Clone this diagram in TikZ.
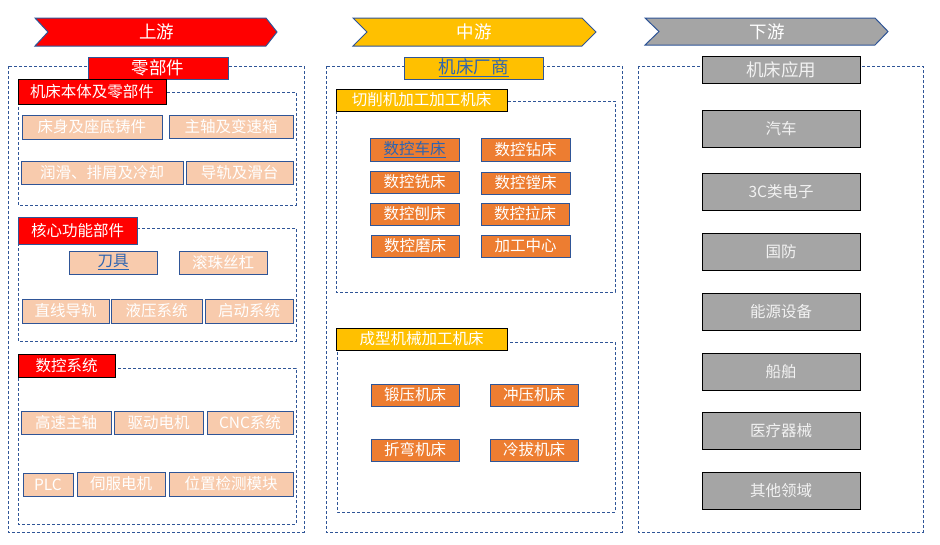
\documentclass[tikz,border=0pt]{standalone}
\usepackage{xcolor}
\usepackage{fontspec}
\setmainfont{Noto Sans CJK SC}
\usepackage{tikz}

\definecolor{lineblue}{HTML}{2F5597}
\definecolor{redfill}{HTML}{FF0000}
\definecolor{goldfill}{HTML}{FFC000}
\definecolor{grayfill}{HTML}{A5A5A5}
\definecolor{peach}{HTML}{F8CBAD}
\definecolor{orangefill}{HTML}{ED7D31}
\definecolor{linktext}{HTML}{2E64B0}

\begin{document}
\begin{tikzpicture}[x=1pt,y=-1pt,
  box/.style={rectangle,inner sep=0pt,line width=1pt,text=white,font=\fontsize{15.5}{18}\selectfont},
  bigbox/.style={box,font=\fontsize{17.5}{20}\selectfont},
  part/.style={box,fill=peach,draw=lineblue},
  mill/.style={box,fill=orangefill,draw=lineblue},
  app/.style={box,fill=grayfill,draw=black,text=white!95!black,minimum width=158pt,minimum height=37pt},
  area/.style={draw=lineblue,line width=0.9pt,dash pattern=on 3pt off 2pt},
  chev/.style={draw=lineblue,line width=1pt}]
\useasboundingbox (0,0) rectangle (940,544);

% stage arrows
\draw[chev,fill=redfill] (35,18) -- (266,18) -- (277,32) -- (266,46) -- (35,46) -- (48,32) -- cycle;
\draw[chev,fill=goldfill] (353,18) -- (582,18) -- (596,32) -- (582,46) -- (353,46) -- (367,32) -- cycle;
\draw[chev,fill=grayfill] (645,18) -- (875,18) -- (888,31.5) -- (875,45) -- (645,45) -- (659,31.5) -- cycle;
\node[bigbox] (up) at (156.5,32) {上游};
\node[bigbox] (mid) at (474,32) {中游};
\node[bigbox] (down) at (767,31.5) {下游};

% dashed frames
\draw[area] (8,66) rectangle (304,532);
\draw[area] (18,92) rectangle (296,205);
\draw[area] (18,228) rectangle (296,341);
\draw[area] (18,368) rectangle (296,524);
\draw[area] (326,66) rectangle (622,532);
\draw[area] (336,101) rectangle (615,292);
\draw[area] (337,342) rectangle (615,512);
\draw[area] (638,66) rectangle (923,532);

% upstream
\node[bigbox,fill=redfill,draw=lineblue,minimum width=140pt,minimum height=22pt] (parts) at (158,68) {零部件};
\node[box,fill=redfill,draw=black,minimum width=148pt,minimum height=25pt] (body) at (92,91.5) {机床本体及零部件};
\node[part,minimum width=140pt,minimum height=24pt] (bed) at (92,127) {床身及座底铸件};
\node[part,minimum width=124pt,minimum height=23pt] (spindle) at (231,126.5) {主轴及变速箱};
\node[part,minimum width=162pt,minimum height=23pt] (lube) at (102,172.5) {润滑、排屑及冷却};
\node[part,minimum width=107pt,minimum height=23pt] (guide) at (239.5,172.5) {导轨及滑台};
\node[box,fill=redfill,draw=lineblue,minimum width=119pt,minimum height=27pt] (core) at (77.5,230.5) {核心功能部件};
\node[part,text=linktext,minimum width=88pt,minimum height=23pt] (tool) at (113,262.5) {\underline{刀具}};
\node[part,minimum width=88pt,minimum height=23pt] (screw) at (223,262.5) {滚珠丝杠};
\node[part,minimum width=87pt,minimum height=24pt] (rail) at (65.5,311) {直线导轨};
\node[part,minimum width=91pt,minimum height=24pt] (hydro) at (156.5,311) {液压系统};
\node[part,minimum width=88pt,minimum height=24pt] (start) at (249,311) {启动系统};
\node[box,fill=redfill,draw=black,minimum width=97pt,minimum height=23pt] (nc) at (66.5,365.5) {数控系统};
\node[part,minimum width=90pt,minimum height=23pt] (hsp) at (66,422.5) {高速主轴};
\node[part,minimum width=89pt,minimum height=23pt] (drive) at (158.5,422.5) {驱动电机};
\node[part,minimum width=86pt,minimum height=23pt] (cnc) at (250,422.5) {CNC系统};
\node[part,minimum width=50pt,minimum height=23pt] (plc) at (48,484.5) {PLC};
\node[part,minimum width=88pt,minimum height=24pt] (servo) at (121,484) {伺服电机};
\node[part,minimum width=124pt,minimum height=24pt] (pos) at (231,484) {位置检测模块};

% midstream
\node[bigbox,fill=goldfill,draw=lineblue,text=linktext,minimum width=139pt,minimum height=22pt] (maker) at (473.5,68) {\underline{机床厂商}};
\node[box,fill=goldfill,draw=black,minimum width=171pt,minimum height=22pt] (cut) at (421.5,100) {切削机加工加工机床};
\node[mill,text=linktext,minimum width=89pt,minimum height=23pt] (lathe) at (414.5,149.5) {\underline{数控车床}};
\node[mill,minimum width=89pt,minimum height=23pt] (drill) at (525.5,149.5) {数控钻床};
\node[mill,minimum width=89pt,minimum height=22pt] (millm) at (414.5,182) {数控铣床};
\node[mill,minimum width=89pt,minimum height=22pt] (bore) at (525.5,183) {数控镗床};
\node[mill,minimum width=89pt,minimum height=22pt] (plane) at (414.5,214) {数控刨床};
\node[mill,minimum width=88pt,minimum height=22pt] (broach) at (525,214) {数控拉床};
\node[mill,minimum width=88pt,minimum height=22pt] (grind) at (415,246) {数控磨床};
\node[mill,minimum width=89pt,minimum height=22pt] (center) at (525.5,246) {加工中心};
\node[box,fill=goldfill,draw=black,minimum width=171pt,minimum height=22pt] (form) at (421.5,339) {成型机械加工机床};
\node[mill,minimum width=88pt,minimum height=22pt] (forge) at (415,395) {锻压机床};
\node[mill,minimum width=88pt,minimum height=22pt] (press) at (534,395) {冲压机床};
\node[mill,minimum width=88pt,minimum height=22pt] (bend) at (415,450) {折弯机床};
\node[mill,minimum width=88pt,minimum height=22pt] (draw) at (534,450) {冷拔机床};

% downstream
\node[bigbox,fill=grayfill,draw=black,text=white!95!black,minimum width=158pt,minimum height=27pt] (use) at (781,69.5) {机床应用};
\node[app] (car) at (781,128.5) {汽车};
\node[app] (elec) at (781,191.5) {3C类电子};
\node[app] (def) at (781,251.5) {国防};
\node[app] (energy) at (781,311.5) {能源设备};
\node[app] (ship) at (781,371.5) {船舶};
\node[app] (med) at (781,430.5) {医疗器械};
\node[app] (other) at (781,490.5) {其他领域};
\end{tikzpicture}
\end{document}
